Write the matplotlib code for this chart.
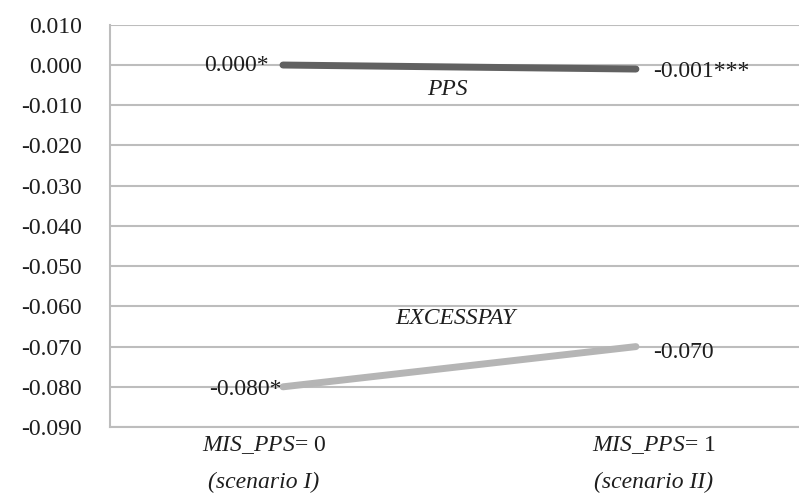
import matplotlib.pyplot as plt

plt.rcParams['font.family'] = ['Liberation Serif', 'DejaVu Serif']
plt.rcParams['mathtext.fontset'] = 'custom'
plt.rcParams['mathtext.rm'] = 'Liberation Serif'
plt.rcParams['mathtext.it'] = 'Liberation Serif:italic'

# dane
scenarios = [0, 1]
scenario_labels = [r'$\mathit{MIS\_PPS}$= 0', r'$\mathit{MIS\_PPS}$= 1']
scenario_names = ['(scenario I)', '(scenario II)']
pps = [0.000, -0.001]
excesspay = [-0.080, -0.070]
pps_labels = ['0.000*', '-0.001***']
excesspay_labels = ['-0.080*', '-0.070']
yticks = [0.010, 0.000, -0.010, -0.020, -0.030, -0.040, -0.050, -0.060, -0.070, -0.080, -0.090]

fs = 17
txt = '#1e1e1e'

fig = plt.figure(figsize=(7.99, 4.96), dpi=100)
ax = fig.add_axes([0.1377, 0.139, 0.8623, 0.811])

ax.plot(scenarios, pps, color='#616161', lw=5, solid_capstyle='round', zorder=3)
ax.plot(scenarios, excesspay, color='#b5b5b5', lw=5, solid_capstyle='round', zorder=3)

# etykiety danych
ax.text(-0.04, pps[0] - 0.0002, pps_labels[0], ha='right', va='center', fontsize=fs, color=txt)
ax.text(1.05, pps[1] - 0.0006, pps_labels[1], ha='left', va='center', fontsize=fs, color=txt)
ax.text(-0.005, excesspay[0] - 0.0007, excesspay_labels[0], ha='right', va='center', fontsize=fs, color=txt)
ax.text(1.05, excesspay[1] - 0.0014, excesspay_labels[1], ha='left', va='center', fontsize=fs, color=txt)

# nazwy serii
ax.text(0.466, -0.0062, 'PPS', style='italic', ha='center', va='center', fontsize=fs, color=txt)
ax.text(0.489, -0.0630, 'EXCESSPAY', style='italic', ha='center', va='center', fontsize=fs, color=txt)

ax.set_xlim(-0.49, 1.462)
ax.set_ylim(-0.090, 0.010)
ax.set_yticks(yticks)
ax.set_yticklabels([f'{v:.3f}' if v != 0 else '0.000' for v in yticks], fontsize=fs, color=txt)
ax.tick_params(axis='y', length=0, pad=20)
ax.set_xticks([])
ax.grid(axis='y', color='#bdbdbd', lw=1.5)
ax.set_axisbelow(True)

for sp in ['top', 'right']:
    ax.spines[sp].set_visible(False)
for sp in ['left', 'bottom']:
    ax.spines[sp].set_color('#bdbdbd')
    ax.spines[sp].set_linewidth(1.5)

# etykiety osi x
offsets = [-0.054, 0.05]
for x, lab, name, off in zip(scenarios, scenario_labels, scenario_names, offsets):
    ax.text(x + off, -0.0944, lab, ha='center', va='center', fontsize=fs, color=txt, clip_on=False)
    ax.text(x + off, -0.1037, name, style='italic', ha='center', va='center', fontsize=fs, color=txt, clip_on=False)

fig.savefig('out.png', dpi=100)
